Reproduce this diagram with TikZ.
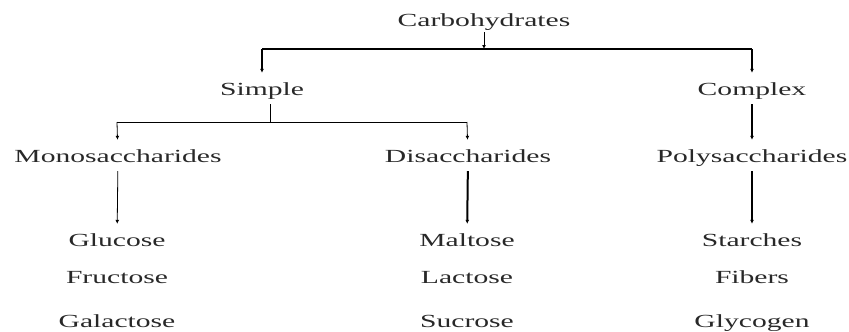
\documentclass[tikz,border=0pt]{standalone}
\usepackage{fontspec}
\setmainfont[FakeStretch=1.6]{Liberation Serif}
\usetikzlibrary{arrows.meta}
\definecolor{txtgray}{RGB}{40,40,40}
\begin{document}
\begin{tikzpicture}[
        x=1pt, y=-1pt,
        item/.style={text=txtgray, font=\fontsize{18.5}{20}\selectfont, text height=12pt, text depth=4pt, inner sep=2pt},
        link/.style={->, shorten >=8pt, shorten <=3pt},
        bold/.style={line width=2pt},
        >={Latex[length=4pt, width=4pt]}
    ]
        \useasboundingbox (0,0) rectangle (849,332);

        % Top level
        \node[item] (carb) at (484,22) {Carbohydrates};
        \node[item] (simple) at (262,91) {Simple};
        \node[item] (complex) at (752,91) {Complex};

        % Second level
        \node[item] (mono) at (118,158) {Monosaccharides};
        \node[item] (di) at (468,158) {Disaccharides};
        \node[item] (poly) at (752,158) {Polysaccharides};

        % Examples
        \node[item] (glu) at (117,242) {Glucose};
        \node[item] (fru) at (117,279) {Fructose};
        \node[item] (gal) at (117,323) {Galactose};
        \node[item] (mal) at (467,242) {Maltose};
        \node[item] (lac) at (467,279) {Lactose};
        \node[item] (suc) at (467,323) {Sucrose};
        \node[item] (sta) at (752,242) {Starches};
        \node[item] (fib) at (752,279) {Fibers};
        \node[item] (gly) at (752,323) {Glycogen};

        % Junctions
        \coordinate (cj) at (484,49);
        \coordinate (cl) at (262,49);
        \coordinate (cr) at (752,49);
        \coordinate (sj) at (270,122);
        \coordinate (ml) at (117,122);
        \coordinate (dr) at (467,122);

        % Carbohydrates split
        \draw[->, line width=0.8pt] (carb) -- (cj);
        \draw[line width=1.2pt] (cl) -- (cr);
        \draw[link, bold, shorten <=0pt] (cl) -- (simple);
        \draw[link, bold, shorten <=0pt] (cr) -- (complex);

        % Simple split
        \draw[line width=0.8pt] (sj |- simple.south) ++(0,3) -- (sj);
        \draw[line width=0.8pt] (ml) -- (dr);
        \draw[link, line width=0.8pt, shorten <=0pt] (ml) -- (mono);
        \draw[link, line width=0.8pt, shorten <=0pt] (dr) -- (di);

        % Complex
        \draw[link, bold] (complex) -- (poly);

        % Down to examples
        \draw[link, line width=0.8pt] (mono) -- (glu);
        \draw[link, bold] (di) -- (mal);
        \draw[link, bold] (poly) -- (sta);
\end{tikzpicture}
\end{document}
